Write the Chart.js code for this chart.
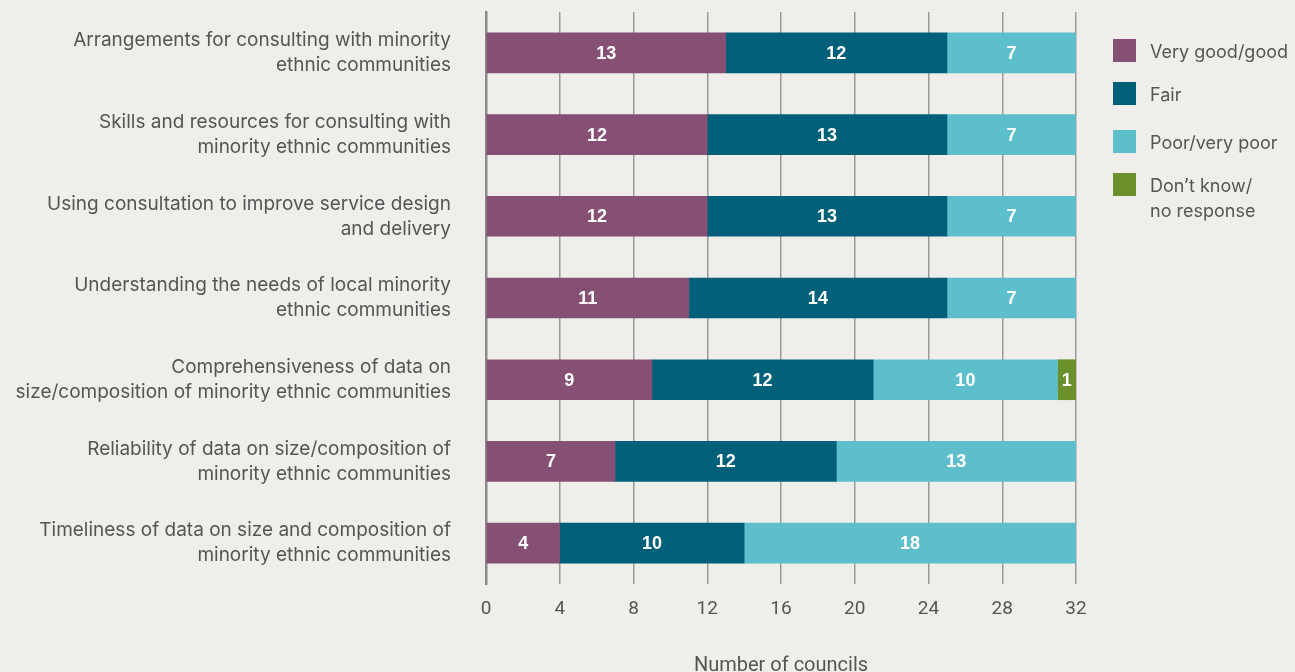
<!DOCTYPE html>
<html>
<head>
<meta charset="utf-8">
<script src="https://cdn.jsdelivr.net/npm/chart.js@4"></script>
<style>
  html, body { margin: 0; padding: 0; background: #efeeea; }
  #wrap { position: relative; width: 1295px; height: 672px; overflow: hidden; }
  canvas { position: absolute; left: 0; top: 0; }
  #legend { position: absolute; left: 1113px; top: 39px; font-family: Inter, "Liberation Sans", Arial, sans-serif; font-size: 18px; color: #555; }
  .item { display: flex; align-items: flex-start; height: 23px; }
  .item + .item { margin-top: 20px; }
  .item:nth-child(3) { margin-top: 25px; }
  .box { width: 23px; height: 23px; flex: none; margin-right: 14px; }
  .txt { line-height: 25px; margin-top: 0px; white-space: nowrap; }
</style>
</head>
<body>
<div id="wrap">
  <canvas id="c" width="1295" height="672"></canvas>
  <div id="legend"></div>
</div>
<script>
const categories = [
  ["Arrangements for consulting with minority", "ethnic communities"],
  ["Skills and resources for consulting with", "minority ethnic communities"],
  ["Using consultation to improve service design", "and delivery"],
  ["Understanding the needs of local minority", "ethnic communities"],
  ["Comprehensiveness of data on", "size/composition of minority ethnic communities"],
  ["Reliability of data on size/composition of", "minority ethnic communities"],
  ["Timeliness of data on size and composition of", "minority ethnic communities"]
];
const seriesNames = ["Very good/good", "Fair", "Poor/very poor", "Don\u2019t know/\nno response"];
const veryGoodGood = [13, 12, 12, 11, 9, 7, 4];
const fair = [12, 13, 13, 14, 12, 12, 10];
const poorVeryPoor = [7, 7, 7, 7, 10, 13, 18];
const dontKnow = [0, 0, 0, 0, 1, 0, 0];
const xTicks = [0, 4, 8, 12, 16, 20, 24, 28, 32];
const xTitle = "Number of councils";

const colors = ["#865075", "#00607a", "#5ebfcc", "#6a8f2b"];
const seriesValues = [veryGoodGood, fair, poorVeryPoor, dontKnow];

const font = "Inter, 'Liberation Sans', Arial, sans-serif";
const axisFont = "Roboto, 'Liberation Sans', Arial, sans-serif";
const boldFont = "'Liberation Sans', Arial, sans-serif";

const labelPlugin = {
  id: 'barLabels',
  afterDatasetsDraw(chart) {
    const ctx = chart.ctx;
    ctx.save();
    ctx.fillStyle = '#ffffff';
    ctx.font = "bold 18px " + boldFont;
    ctx.textAlign = 'center';
    ctx.textBaseline = 'middle';
    chart.data.datasets.forEach((ds, di) => {
      const meta = chart.getDatasetMeta(di);
      meta.data.forEach((el, i) => {
        const v = ds.data[i];
        if (!v) return;
        const p = el.getProps(['x', 'y', 'base'], true);
        ctx.fillText(String(v), (p.x + p.base) / 2, p.y + 1);
      });
    });
    ctx.restore();
  }
};

new Chart(document.getElementById('c'), {
  type: 'bar',
  data: {
    labels: categories,
    datasets: seriesValues.map((vals, i) => ({
      label: seriesNames[i],
      data: vals,
      backgroundColor: colors[i],
      borderWidth: 0,
      barThickness: 40
    }))
  },
  options: {
    indexAxis: 'y',
    responsive: false,
    animation: false,
    devicePixelRatio: 1,
    layout: { padding: { top: 12, right: 219, bottom: 0, left: 0 } },
    plugins: { legend: { display: false }, tooltip: { enabled: false } },
    scales: {
      x: {
        stacked: true,
        min: 0, max: 32,
        afterBuildTicks(scale) { scale.ticks = xTicks.map(v => ({ value: v })); },
        afterFit(scale) { scale.paddingLeft = 0; scale.paddingRight = 0; },
        grid: { color: '#9a9a9a', lineWidth: 1.5, drawTicks: false },
        border: { display: false },
        ticks: { padding: 16, color: '#555', font: { family: axisFont, size: 19, lineHeight: 1 } },
        title: { display: true, text: xTitle, color: '#555', font: { family: axisFont, size: 20, lineHeight: 1 }, padding: { top: 21, bottom: -4 } }
      },
      y: {
        stacked: true,
        afterFit(scale) { scale.width = 486; scale.paddingTop = 0; scale.paddingBottom = 0; },
        grid: { display: false, drawTicks: false },
        border: { display: true, color: '#8a8a8a', width: 2.5 },
        ticks: { padding: 35, color: '#555', font: { family: font, size: 19, lineHeight: 1.316 }, crossAlign: 'near' }
      }
    }
  },
  plugins: [labelPlugin]
});

const legend = document.getElementById('legend');
seriesNames.forEach((name, i) => {
  const item = document.createElement('div');
  item.className = 'item';
  const box = document.createElement('div');
  box.className = 'box';
  box.style.background = colors[i];
  const txt = document.createElement('div');
  txt.className = 'txt';
  name.split('\n').forEach((line, j) => {
    if (j) txt.appendChild(document.createElement('br'));
    txt.appendChild(document.createTextNode(line));
  });
  item.appendChild(box);
  item.appendChild(txt);
  legend.appendChild(item);
});
</script>
</body>
</html>
